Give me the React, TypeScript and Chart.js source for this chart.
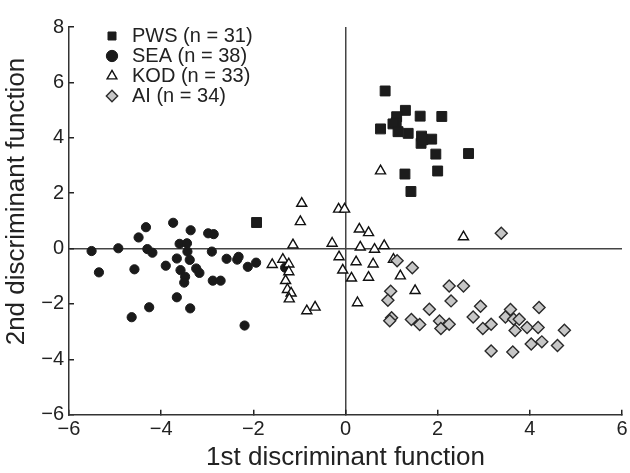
import { useEffect, useRef } from 'react';
import { Chart, registerables } from 'chart.js';

Chart.register(...registerables);

// ---- Data ----
const pwsX = [0.86, 1.30, 1.11, 1.62, 2.09, 1.10, 1.03, 0.76, 1.14, 1.36, 1.65, 1.64, 1.68, 1.87, 1.96, 2.67, 1.29, 2.00, 1.42, -1.93];
const pwsY = [5.69, 4.99, 4.76, 4.78, 4.77, 4.54, 4.50, 4.32, 4.22, 4.16, 4.06, 3.80, 3.93, 3.95, 3.41, 3.43, 2.69, 2.80, 2.06, 0.94];

const seaX = [-5.51, -5.35, -4.93, -4.58, -4.64, -4.49, -4.33, -4.30, -4.19, -4.26, -3.90, -3.74, -3.66, -3.66, -3.60, -3.44, -3.43, -3.38, -3.58, -3.48, -3.50, -3.36, -3.37, -3.24, -3.17, -2.98, -2.86, -2.90, -2.88, -2.71, -2.58, -2.35, -2.32, -2.12, -1.94, -2.19, -1.31];
const seaY = [-0.09, -0.86, 0.01, -0.75, -2.48, 0.40, 0.77, -0.02, -0.15, -2.12, -0.62, 0.93, -0.36, -1.76, 0.17, 0.19, -0.11, -0.41, -0.78, -1.02, -1.23, 0.66, -2.16, -0.72, -0.88, 0.55, 0.52, -0.11, -1.16, -1.16, -0.37, -0.40, -0.30, -0.66, -0.51, -2.78, -0.69];

const kodX = [-0.95, -0.98, -0.15, -0.02, 0.30, 0.50, -1.14, -0.29, 0.32, 0.63, 0.84, -1.59, -1.36, -1.23, -1.23, -0.14, 0.23, 0.60, 1.04, -0.06, 0.13, 0.50, 1.19, -1.30, -1.26, -1.18, -1.22, 1.51, 0.26, -0.84, -0.66, 2.56, 0.76];
const kodY = [1.63, 0.97, 1.42, 1.42, 0.70, 0.57, 0.13, 0.19, 0.05, -0.03, 0.10, -0.58, -0.39, -0.56, -0.84, -0.30, -0.48, -0.56, -0.39, -0.78, -1.07, -1.04, -0.99, -1.16, -1.48, -1.61, -1.82, -1.52, -1.96, -2.25, -2.12, 0.42, 2.80];

const aiX = [3.38, 1.12, 1.45, 2.25, 2.56, 0.98, 0.92, 2.29, 2.93, 1.82, 3.58, 4.20, 2.77, 3.47, 3.65, 3.77, 1.00, 0.96, 1.43, 1.61, 2.04, 2.07, 2.25, 2.98, 3.16, 3.68, 3.94, 4.18, 4.75, 4.03, 4.26, 4.60, 3.16, 3.63];
const aiY = [0.55, -0.44, -0.69, -1.35, -1.35, -1.54, -1.87, -1.89, -2.08, -2.19, -2.20, -2.13, -2.47, -2.47, -2.55, -2.55, -2.50, -2.61, -2.56, -2.74, -2.62, -2.89, -2.73, -2.89, -2.73, -2.96, -2.85, -2.85, -2.95, -3.45, -3.37, -3.50, -3.70, -3.74];

const seriesLabels = ['PWS (n = 31)', 'SEA (n = 38)', 'KOD (n = 33)', 'AI (n = 34)'];

const xMin = -6, xMax = 6, yMin = -6, yMax = 8, tickStep = 2;
const xTitle = '1st discriminant function';
const yTitle = '2nd discriminant function';

const FONT = "'Liberation Sans', Arial, Helvetica, sans-serif";
const INK = '#222222';

const toPoints = (xs: number[], ys: number[]) => xs.map((x, i) => ({ x, y: ys[i] }));
const fmt = (v: number | string) => {
  const n = Number(v);
  return n < 0 ? '\u2212' + Math.abs(n) : String(n);
};

// Place the built-in legend at the upper-left inside the plot
const legendShift = {
  id: 'legendShift',
  afterLayout(chart: any) {
    const lg = chart.legend;
    if (!lg) return;
    lg.left += 33;
    lg.top += 26;
    lg.bottom += 26;
  },
};

// Y-axis title (drawn slightly above the axis centre, as in the reference)
const yAxisTitle = {
  id: 'yAxisTitle',
  afterDraw(chart: any) {
    const ctx = chart.ctx;
    ctx.save();
    ctx.translate(16.5, 201.5);
    ctx.rotate(-Math.PI / 2);
    ctx.font = `26px ${FONT}`;
    ctx.fillStyle = INK;
    ctx.textAlign = 'center';
    ctx.textBaseline = 'middle';
    ctx.fillText(yTitle, 0, 0);
    ctx.restore();
  },
};

export default function App() {
  const ref = useRef<HTMLCanvasElement>(null);

  useEffect(() => {
    if (!ref.current) return;
    const zeroColor = (c: any) => (c.tick && c.tick.value === 0 ? '#444444' : 'rgba(0,0,0,0)');
    const chart = new Chart(ref.current, {
      type: 'scatter',
      data: {
        datasets: [
          {
            label: seriesLabels[0],
            data: toPoints(pwsX, pwsY),
            pointStyle: 'rect',
            pointRadius: 7,
            backgroundColor: '#1c1c1c',
            borderColor: '#1c1c1c',
            borderWidth: 1,
            order: 0,
          },
          {
            label: seriesLabels[1],
            data: toPoints(seaX, seaY),
            pointStyle: 'circle',
            pointRadius: 4.6,
            backgroundColor: '#1a1a1a',
            borderColor: '#1a1a1a',
            borderWidth: 1,
            order: 3,
          },
          {
            label: seriesLabels[2],
            data: toPoints(kodX, kodY),
            pointStyle: 'triangle',
            pointRadius: 5.8,
            backgroundColor: '#ffffff',
            borderColor: '#111111',
            borderWidth: 1.4,
            order: 2,
          },
          {
            label: seriesLabels[3],
            data: toPoints(aiX, aiY),
            pointStyle: 'rectRot',
            pointRadius: 6,
            backgroundColor: '#c6c6c6',
            borderColor: '#2a2a2a',
            borderWidth: 1.4,
            order: 1,
          },
        ],
      },
      options: {
        responsive: false,
        animation: false,
        devicePixelRatio: 1,
        layout: { padding: { left: 0, right: 7.3, top: 27, bottom: 0 } },
        plugins: {
          tooltip: { enabled: false },
          legend: {
            display: true,
            position: 'chartArea' as any,
            align: 'start',
            labels: {
              usePointStyle: true,
              boxWidth: 20,
              boxHeight: 8,
              padding: 0,
              color: INK,
              font: { family: FONT, size: 20 },
              sort: (a: any, b: any) => a.datasetIndex - b.datasetIndex,
            },
          },
        },
        scales: {
          x: {
            type: 'linear',
            min: xMin,
            max: xMax,
            ticks: {
              stepSize: tickStep,
              color: INK,
              padding: 8,
              font: { family: FONT, size: 20 },
              callback: (v: any) => fmt(v),
            },
            grid: {
              drawOnChartArea: true,
              color: zeroColor,
              lineWidth: 1.5,
              tickColor: INK,
              tickLength: -5,
              tickWidth: 1.5,
            },
            border: { display: true, color: '#333333', width: 1.5 },
            title: {
              display: true,
              text: xTitle,
              color: INK,
              font: { family: FONT, size: 26 },
              padding: { top: 0, bottom: 0 },
            },
            afterFit: (s: any) => {
              s.height = 58.3;
              s.paddingLeft = 0;
              s.paddingRight = 0;
            },
          },
          y: {
            type: 'linear',
            min: yMin,
            max: yMax,
            ticks: {
              stepSize: tickStep,
              color: INK,
              padding: 10,
              font: { family: FONT, size: 20 },
              callback: (v: any) => fmt(v),
            },
            grid: {
              drawOnChartArea: true,
              color: zeroColor,
              lineWidth: 1.5,
              tickColor: INK,
              tickLength: -5,
              tickWidth: 1.5,
            },
            border: { display: true, color: '#333333', width: 1.5 },
            title: { display: false, text: yTitle },
            afterFit: (s: any) => {
              s.width = 69;
              s.paddingTop = 0;
              s.paddingBottom = 0;
            },
          },
        },
      },
      plugins: [legendShift, yAxisTitle],
    } as any);
    return () => chart.destroy();
  }, []);

  return (
    <div style={{ position: 'fixed', left: 0, top: 0, width: 630, height: 473, background: '#ffffff' }}>
      <canvas ref={ref} width={630} height={473} style={{ display: 'block' }} />
    </div>
  );
}
